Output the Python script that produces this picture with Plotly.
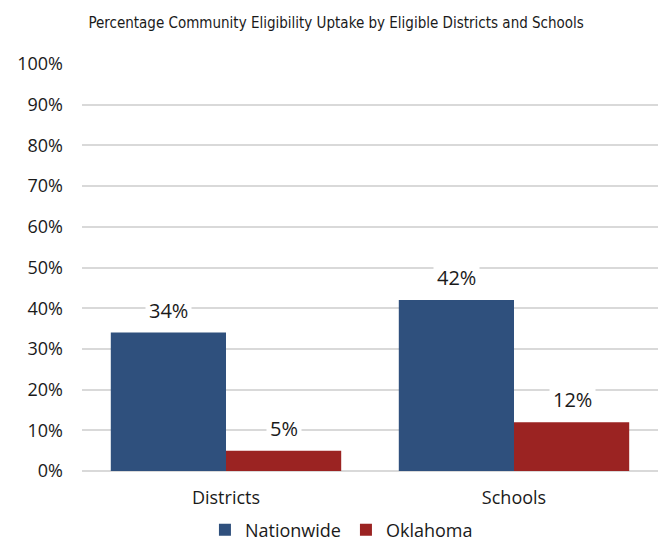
import plotly.graph_objects as go

categories = ["Districts", "Schools"]
nationwide = [34, 42]
oklahoma = [5, 12]
series_names = ["Nationwide", "Oklahoma"]
colors = ["#2F507D", "#9B2322"]
title_text = "Percentage Community Eligibility Uptake by Eligible Districts and Schools"

FONT = "Open Sans"
fig = go.Figure()
for name, vals, col in zip(series_names, [nationwide, oklahoma], colors):
    fig.add_trace(go.Bar(x=categories, y=vals, name=name, marker=dict(color=col, line=dict(width=0))))

# data labels with white background
shifts = [-58, 58]
for vals, sh in zip([nationwide, oklahoma], shifts):
    for c, v in zip(categories, vals):
        fig.add_annotation(x=c, y=v, xref="x", yref="y", text=f"{v}%", showarrow=False,
                           xshift=sh, yshift=5, yanchor="bottom", bgcolor="white",
                           borderpad=3, font=dict(family=FONT, size=20, color="#1a1a1a"))

fig.update_layout(
    width=663, height=542,
    margin=dict(l=82, r=5, t=64, b=71, autoexpand=False),
    plot_bgcolor="white", paper_bgcolor="white",
    barmode="group", bargap=0.2, bargroupgap=0,
    title=dict(text=title_text, x=0.507, xanchor="center", xref="container",
               y=0.958, yanchor="middle", yref="container",
               font=dict(family="DejaVu Sans Condensed, Liberation Sans Narrow, Noto Sans", size=15, color="#1a1a1a")),
    font=dict(family=FONT, size=18, color="#1a1a1a"),
    xaxis=dict(showline=False, ticks="", tickfont=dict(size=18), ticklabelstandoff=14),
    yaxis=dict(range=[0, 100], dtick=10, ticksuffix="%", showgrid=True,
               gridcolor="#d9d9d9", gridwidth=1.5, zeroline=True, zerolinecolor="#d9d9d9",
               zerolinewidth=1.5, tickfont=dict(size=18), ticklabelstandoff=18),
    legend=dict(orientation="h", x=0.515, xanchor="center", xref="container",
                y=-0.145, yanchor="middle", yref="paper",
                font=dict(size=18), itemwidth=30, tracegroupgap=0),
    showlegend=True,
)
fig.write_html("out.html", config={"displayModeBar": False},
               post_script="document.body.style.margin='0';")
